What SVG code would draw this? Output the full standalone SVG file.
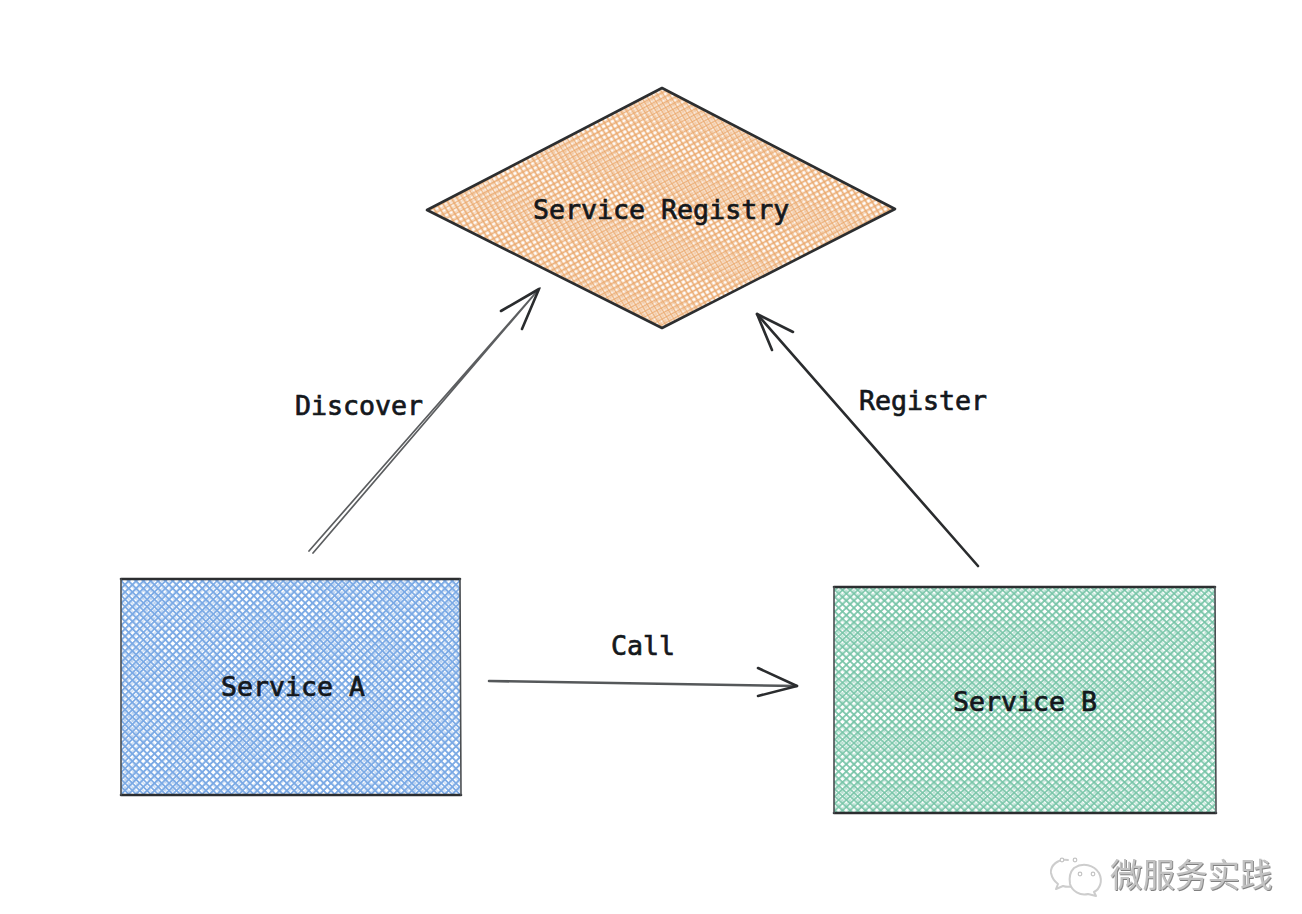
<svg xmlns="http://www.w3.org/2000/svg" width="1302" height="914" viewBox="0 0 1302 914">
  <style>
    .label { font-family: "DejaVu Sans Mono", "Liberation Mono", monospace; font-size: 26.6px; fill: #14181c; stroke: #14181c; stroke-width: 0.7px; }
    .edge { fill: none; stroke: #2a2c2e; stroke-width: 2.6; stroke-linecap: round; stroke-linejoin: round; }
    .thin { stroke: #5c5e60; stroke-width: 1.7; }
    .shaft { stroke: #55585a; stroke-width: 2.6; }
    .outline { fill: none; stroke: #2c2e30; stroke-width: 2.6; stroke-linejoin: round; stroke-linecap: round; }
    .outline-soft { fill: none; stroke: #4a4e52; stroke-width: 1.6; stroke-linejoin: round; stroke-linecap: round; }
    .mark { fill: #ffffff; stroke: #cdcdcd; stroke-width: 2; stroke-linecap: round; stroke-linejoin: round; }
    .dot { fill: #ffffff; stroke: #c4c4c4; stroke-width: 1.2; }
    .brand { font-family: "Noto Sans CJK SC", "Noto Sans", sans-serif; font-size: 32.5px; fill: #c2c2c2; filter: url(#emboss); }
  </style>
  <defs>
    <filter id="emboss" x="-5%" y="-10%" width="110%" height="125%">
      <feDropShadow dx="0.9" dy="1" stdDeviation="0.3" flood-color="#808080"/>
    </filter>
    <!-- Each hatch is one family of parallel strokes; overlaying families at close angles gives the woven banding. -->
    <pattern id="o1" width="5" height="5" patternUnits="userSpaceOnUse" patternTransform="rotate(-28)"><path d="M0 2.5H5" stroke="#eaa86c" stroke-width="1.6" stroke-opacity=".85"/></pattern>
    <pattern id="o2" width="5.3" height="5.3" patternUnits="userSpaceOnUse" patternTransform="rotate(-31)"><path d="M0 2.6H5.3" stroke="#eaa86c" stroke-width="1" stroke-opacity=".6"/></pattern>
    <pattern id="o3" width="5" height="5" patternUnits="userSpaceOnUse" patternTransform="rotate(58)"><path d="M0 2.5H5" stroke="#eaa86c" stroke-width="1.6" stroke-opacity=".85"/></pattern>
    <pattern id="o4" width="5.3" height="5.3" patternUnits="userSpaceOnUse" patternTransform="rotate(61)"><path d="M0 2.6H5.3" stroke="#eaa86c" stroke-width="1" stroke-opacity=".6"/></pattern>

    <pattern id="b1" width="5.2" height="5.2" patternUnits="userSpaceOnUse" patternTransform="rotate(45)"><path d="M0 2.6H5.2" stroke="#79a8e4" stroke-width="1.7" stroke-opacity=".95"/></pattern>
    <pattern id="b2" width="5.6" height="5.6" patternUnits="userSpaceOnUse" patternTransform="rotate(48)"><path d="M0 2.8H5.6" stroke="#79a8e4" stroke-width="1" stroke-opacity=".6"/></pattern>
    <pattern id="b3" width="5.2" height="5.2" patternUnits="userSpaceOnUse" patternTransform="rotate(-45)"><path d="M0 2.6H5.2" stroke="#79a8e4" stroke-width="1.7" stroke-opacity=".95"/></pattern>
    <pattern id="b4" width="5.6" height="5.6" patternUnits="userSpaceOnUse" patternTransform="rotate(-42)"><path d="M0 2.8H5.6" stroke="#79a8e4" stroke-width="1" stroke-opacity=".6"/></pattern>

    <pattern id="g1" width="5.2" height="5.2" patternUnits="userSpaceOnUse" patternTransform="rotate(43)"><path d="M0 2.6H5.2" stroke="#74c4a6" stroke-width="1.6" stroke-opacity=".9"/></pattern>
    <pattern id="g2" width="5.6" height="5.6" patternUnits="userSpaceOnUse" patternTransform="rotate(47)"><path d="M0 2.8H5.6" stroke="#74c4a6" stroke-width="1" stroke-opacity=".6"/></pattern>
    <pattern id="g3" width="5.2" height="5.2" patternUnits="userSpaceOnUse" patternTransform="rotate(-43)"><path d="M0 2.6H5.2" stroke="#74c4a6" stroke-width="1.6" stroke-opacity=".9"/></pattern>
    <pattern id="g4" width="5.6" height="5.6" patternUnits="userSpaceOnUse" patternTransform="rotate(-47)"><path d="M0 2.8H5.6" stroke="#74c4a6" stroke-width="1" stroke-opacity=".6"/></pattern>

    <polygon id="diamond" points="662,88 895,209 662,328 427,210"/>
    <rect id="box-a" x="121" y="579" width="339" height="216"/>
    <rect id="box-b" x="834" y="587" width="381" height="226"/>
  </defs>

  <rect width="1302" height="914" fill="#ffffff"/>

  <g id="service-registry">
    <use href="#diamond" fill="url(#o1)"/>
    <use href="#diamond" fill="url(#o2)"/>
    <use href="#diamond" fill="url(#o3)"/>
    <use href="#diamond" fill="url(#o4)"/>
    <path class="outline" d="M427 210L662 88L895 209L662 328Z"/>
    <text class="label" x="533" y="219">Service Registry</text>
  </g>

  <g id="service-a">
    <use href="#box-a" fill="url(#b1)"/>
    <use href="#box-a" fill="url(#b2)"/>
    <use href="#box-a" fill="url(#b3)"/>
    <use href="#box-a" fill="url(#b4)"/>
    <path class="outline" d="M121 579L460 579M121 795L461 795"/>
    <path class="outline-soft" d="M121 579L121 795M460 579L461 795"/>
    <text class="label" x="221" y="696">Service A</text>
  </g>

  <g id="service-b">
    <use href="#box-b" fill="url(#g1)"/>
    <use href="#box-b" fill="url(#g2)"/>
    <use href="#box-b" fill="url(#g3)"/>
    <use href="#box-b" fill="url(#g4)"/>
    <path class="outline" d="M834 587L1215 587M834 813L1216 813"/>
    <path class="outline-soft" d="M834 587L834 813M1215 587L1216 813"/>
    <text class="label" x="953" y="711">Service B</text>
  </g>

  <g id="connectors">
    <path class="edge thin" d="M309 551L539 289M313 553L540 288"/>
    <path class="edge" d="M501 311L539 289L522 329"/>
    <path class="edge" d="M978 566L757 314"/>
    <path class="edge" d="M793 332L757 314L772 350"/>
    <path class="edge shaft" d="M489 681L797 686"/>
    <path class="edge" d="M758 668L797 686L758 696"/>
    <text class="label" x="295" y="415">Discover</text>
    <text class="label" x="859" y="410">Register</text>
    <text class="label" x="611" y="655">Call</text>
  </g>

  <g id="watermark">
    <path class="mark" d="M1068 860C1058 858 1050 866 1051 873C1052 878 1054 881 1058 884L1056 889L1063 886C1066 887 1070 887 1073 886"/>
    <path class="mark" d="M1074 868C1083 862 1094 865 1099 873C1103 881 1100 889 1094 892L1096 896L1088 894C1080 896 1072 891 1070 884C1069 878 1070 872 1074 868Z"/>
    <circle class="dot" cx="1062" cy="860" r="1.8"/>
    <circle class="dot" cx="1075" cy="860" r="1.8"/>
    <circle class="dot" cx="1080" cy="874" r="1.8"/>
    <circle class="dot" cx="1093" cy="874" r="1.8"/>
    <text class="brand" x="1110" y="887">微服务实践</text>
  </g>
</svg>
